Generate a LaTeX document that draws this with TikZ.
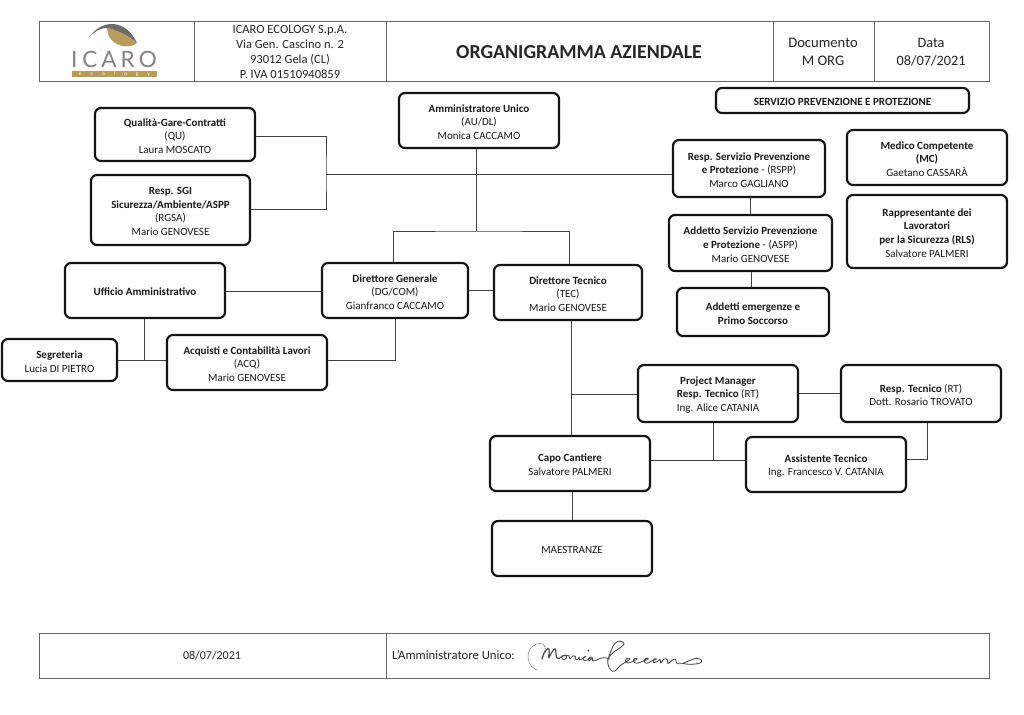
\documentclass[tikz,border=0pt]{standalone}
\usepackage{fontspec}
\setmainfont{Carlito}
\newfontfamily\logofont{Lato}
\definecolor{logogold}{HTML}{B99B5C}
\definecolor{logogray}{HTML}{6E6B68}
\tikzset{x=1pt,y=-1pt,
 orgbox/.style={draw=black!92,line width=2.2pt,rounded corners=6pt,fill=white,align=center,inner sep=0pt,font=\fontsize{11}{13.8}\selectfont,text=black!90},
 link/.style={draw=black!75,line width=0.8pt},
 frameline/.style={draw=black!60,line width=0.9pt},
 cell/.style={align=center,inner sep=0pt,text=black!85,font=\fontsize{12.5}{15.1}\selectfont},
 sig/.style={draw=black!70,line width=0.85pt,line cap=round,line join=round,smooth,tension=0.6}}
% \bx{name}{x0}{y0}{x1}{y1}{text}
\newcommand{\bx}[6]{%
 \pgfmathsetmacro{\cxx}{(#2+#4)/2}\pgfmathsetmacro{\cyy}{(#3+#5)/2}%
 \pgfmathsetmacro{\wdd}{#4-#2}\pgfmathsetmacro{\htt}{#5-#3}%
 \node[orgbox,minimum width=\wdd pt,minimum height=\htt pt] (#1) at (\cxx,\cyy) {\parbox{\wdd pt}{\centering\vspace{3pt}\par #6}};}
\begin{document}
\begin{tikzpicture}
\useasboundingbox (0,0) rectangle (1024,714);
\fill[white] (0,0) rectangle (1024,714);
% header and footer tables
\draw[frameline] (39,21) rectangle (989,81);
\foreach \xx in {194,386,773,874} \draw[frameline] (\xx,21) -- (\xx,81);
\draw[frameline] (39,633) rectangle (989,678);
\draw[frameline] (386,633) -- (386,678);
\node[cell] (addr) at (290,52) {ICARO ECOLOGY S.p.A.\\Via Gen. Cascino n. 2\\93012 Gela (CL)\\P. IVA 01510940859};
\node[cell,font=\fontsize{19.8}{22}\selectfont\bfseries] (title) at (579,52) {ORGANIGRAMMA AZIENDALE};
\node[cell,font=\fontsize{14.6}{18}\selectfont] (doc) at (823,52) {Documento\\M ORG};
\node[cell,font=\fontsize{14.3}{18}\selectfont] (data) at (931,52) {Data\\08/07/2021};
\node[cell,font=\fontsize{12}{14}\selectfont] (fdate) at (212,656) {08/07/2021};
\node[cell,anchor=west,font=\fontsize{12.7}{14}\selectfont] (firma) at (392,655) {L’Amministratore Unico:};
% logo
\fill[logogold] (107,28) .. controls (108,43) and (120,46) .. (126,46.5) .. controls (131,46.5) and (135,45) .. (136.7,43) .. controls (129,37) and (118,30) .. (107,28) -- cycle;
\fill[logogray] (89,37) .. controls (96,28) and (104,24) .. (112,24) .. controls (123,24) and (132,32) .. (137,43) .. controls (130,37) and (118,30) .. (107,28) .. controls (101,28) and (95,31) .. (89,37) -- cycle;
\node[inner sep=0pt,text=logogray!85,anchor=base,font=\fontsize{22.5}{22.5}\selectfont\logofont] (logoword) at (114,68) {I\hspace{5pt}C\hspace{4pt}A\hspace{4pt}R\hspace{4pt}O};
\fill[logogold] (72,71.5) rectangle (157,77.5);
\node[inner sep=0pt,text=white,anchor=base,font=\fontsize{5}{5}\selectfont\logofont] (logoeco) at (114.5,76) {e\hspace{9pt}c\hspace{9pt}o\hspace{9pt}l\hspace{9pt}o\hspace{9pt}g\hspace{9pt}y};
% signature
\begin{scope}[shift={(520,635)},x=0.3333pt,y=-0.3333pt]
\draw[sig,line width=0.5pt,draw=black!50] plot coordinates {(52,105) (35,95) (24,70) (30,42) (50,27) (68,27) (76,40) (70,60) (66,72)};
\draw[sig,line width=1.2pt] plot coordinates {(66,72) (72,55) (84,40) (88,50) (86,68) (98,48) (106,42) (108,55) (110,68) (118,70)};
\draw[sig] plot coordinates {(118,70) (128,62) (136,60) (140,68) (130,74) (125,66) (134,62) (146,62) (150,72) (160,62) (166,64) (166,72) (172,74) (178,66) (178,74) (186,72) (198,64) (190,68) (192,76) (204,74) (214,66) (206,70) (208,78) (218,68) (218,78) (232,74) (250,68) (270,72)};
\draw[sig] plot coordinates {(262,72) (280,52) (305,35) (312,25) (300,18) (285,25) (272,50) (263,82) (272,105) (285,108) (300,92) (316,82) (330,72) (322,70) (316,78) (325,84) (345,76) (352,72) (345,70) (340,78) (350,85) (370,78) (385,72) (378,70) (372,78) (380,85) (395,78) (410,72) (402,72) (400,82) (412,80) (420,72) (422,84) (432,72) (442,74) (444,86) (456,76) (466,72) (470,84) (485,86) (505,78) (530,70) (545,76) (540,84) (515,88) (490,86)};
\fill[black!70] (205,47) circle (3);
\end{scope}
% boxes
\bx{au}{399}{93}{559}{148}{\textbf{Amministratore Unico}\\(AU/DL)\\Monica CACCAMO}
\bx{qu}{95}{108}{255}{161}{\textbf{Qualità-Gare-Contratti}\\(QU)\\Laura MOSCATO}
\bx{rgsa}{91}{175}{250}{245}{\textbf{Resp. SGI}\\\textbf{Sicurezza/Ambiente/ASPP}\\(RGSA)\\Mario GENOVESE}
\bx{spp}{716}{88}{969}{113}{\textbf{SERVIZIO PREVENZIONE E PROTEZIONE}}
\bx{rspp}{673}{140}{825}{197}{\textbf{Resp. Servizio Prevenzione}\\\textbf{e Protezione} - (RSPP)\\Marco GAGLIANO}
\bx{aspp}{669}{215}{832}{271}{\textbf{Addetto Servizio Prevenzione}\\\textbf{e Protezione} - (ASPP)\\Mario GENOVESE}
\bx{emerg}{677}{288}{829}{336}{\textbf{Addetti emergenze e}\\\textbf{Primo Soccorso}}
\bx{mc}{847}{130}{1007}{185}{\textbf{Medico Competente}\\\textbf{(MC)}\\Gaetano CASSARÀ}
\bx{rls}{847}{195}{1007}{268}{\textbf{Rappresentante dei}\\\textbf{Lavoratori}\\\textbf{per la Sicurezza (RLS)}\\Salvatore PALMERI}
\bx{ua}{65}{263}{225}{318}{\textbf{Ufficio Amministrativo}}
\bx{dg}{322}{263}{468}{318}{\textbf{Direttore Generale}\\(DG/COM)\\Gianfranco CACCAMO}
\bx{dt}{494}{265}{642}{320}{\textbf{Direttore Tecnico}\\(TEC)\\Mario GENOVESE}
\bx{seg}{2}{339}{117}{381}{\textbf{Segreteria}\\Lucia DI PIETRO}
\bx{acq}{167}{335}{327}{390}{\textbf{Acquisti e Contabilità Lavori}\\(ACQ)\\Mario GENOVESE}
\bx{pm}{638}{365}{798}{422}{\textbf{Project Manager}\\\textbf{Resp. Tecnico} (RT)\\Ing. Alice CATANIA}
\bx{rt}{841}{365}{1001}{422}{\textbf{Resp. Tecnico} (RT)\\Dott. Rosario TROVATO}
\bx{capo}{490}{436}{650}{491}{\textbf{Capo Cantiere}\\Salvatore PALMERI}
\bx{at}{746}{437}{906}{492}{\textbf{Assistente Tecnico}\\Ing. Francesco V. CATANIA}
\bx{mae}{492}{521}{652}{576}{MAESTRANZE}
% junctions
\coordinate (jq) at (326,174);
\coordinate (jau) at (476,174);
\coordinate (jd) at (476,231);
\coordinate (jdg) at (393,231);
\coordinate (jdt) at (569,231);
\coordinate (jua) at (144,360);
\coordinate (jdg2) at (395,360);
\coordinate (jpm) at (571,394);
\coordinate (jcap) at (713,460);
\coordinate (jrt) at (927,459);
% connectors
\draw[link] (qu.east |- 0,136) -| (jq) |- (rgsa.east |- 0,209);
\draw[link] (jq) -- (rspp.west |- jq);
\draw[link] (au.south -| jau) -- (jd);
\draw[link] (dg.north -| jdg) |- (jd) -| (dt.north -| jdt);
\draw[link] (ua.east |- 0,291) -- (dg.west |- 0,291);
\draw[link] (dg.east |- 0,290) -- (dt.west |- 0,290);
\draw[link] (ua.south -| jua) -- (jua);
\draw[link] (seg.east |- jua) -- (acq.west |- jua);
\draw[link] (dg.south -| jdg2) |- (acq.east |- jdg2);
\draw[link] (dt.south -| jpm) -- (capo.north -| jpm);
\draw[link] (jpm) -- (pm.west |- jpm);
\draw[link] (pm.east |- 0,393) -- (rt.west |- 0,393);
\draw[link] (pm.south -| jcap) -- (jcap);
\draw[link] (capo.east |- jcap) -- (at.west |- jcap);
\draw[link] (rt.south -| jrt) |- (at.east |- jrt);
\draw[link] (capo.south -| 572,0) -- (mae.north -| 572,0);
\draw[link] (rspp.south -| 750,0) -- (aspp.north -| 750,0);
\draw[link] (aspp.south -| 751,0) -- (emerg.north -| 751,0);
\end{tikzpicture}
\end{document}
